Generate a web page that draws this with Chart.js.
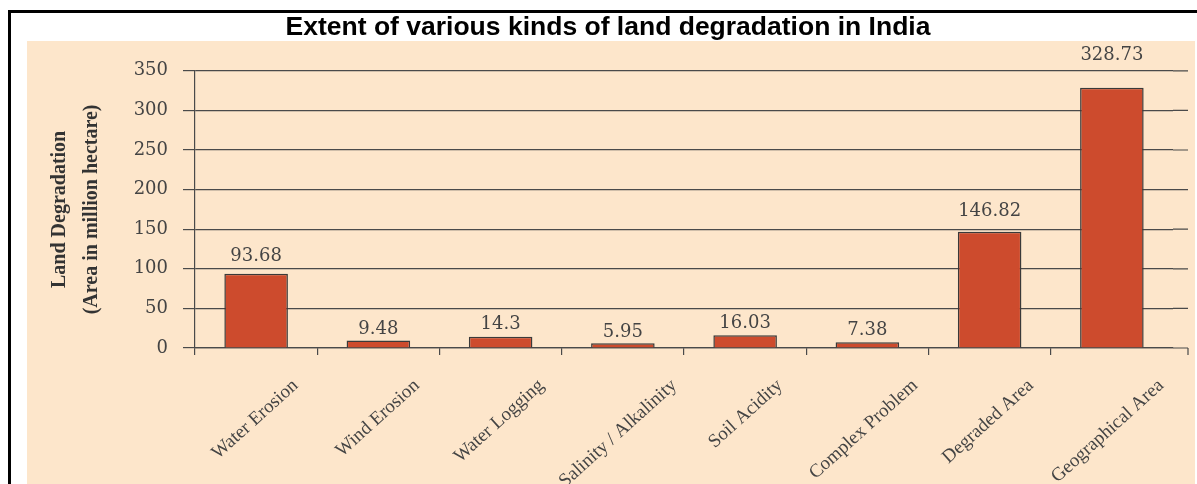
<!DOCTYPE html>
<html>
<head>
<meta charset="utf-8">
<script src="https://cdn.jsdelivr.net/npm/chart.js@4"></script>
<style>
  html, body { margin: 0; padding: 0; background: #fff; }
  #wrap { position: relative; width: 1197px; height: 484px; }
</style>
</head>
<body>
<div id="wrap"><canvas id="myChart" width="1197" height="484"></canvas></div>
<script>
// Dados do gráfico
const categorias = ['Water Erosion', 'Wind Erosion', 'Water Logging', 'Salinity / Alkalinity',
    'Soil Acidity', 'Complex Problem', 'Degraded Area', 'Geographical Area'];
const valores = [93.68, 9.48, 14.3, 5.95, 16.03, 7.38, 146.82, 328.73];
const yTicks = [0, 50, 100, 150, 200, 250, 300, 350];

const PEACH = '#fde6cb';
const GRID = '#4a4a4a';
const TEXT = '#444';

// Fundo pêssego e moldura preta
const fundoPlugin = {
    id: 'fundo',
    beforeDraw(chart) {
        const { ctx, width, height } = chart;
        ctx.save();
        ctx.fillStyle = '#fff';
        ctx.fillRect(0, 0, width, height);
        ctx.fillStyle = PEACH;
        ctx.fillRect(27, 41, width - 29, height - 41);
        ctx.fillStyle = '#000';
        ctx.fillRect(8, 10, width - 8, 3);
        ctx.fillRect(8, 10, 3, height - 10);
        ctx.restore();
    }
};

// Prolonga as linhas de grade além da última categoria
const extensaoPlugin = {
    id: 'extensao',
    beforeDatasetsDraw(chart) {
        const { ctx, chartArea, scales: { y } } = chart;
        const fim = chartArea.right + 15;
        ctx.save();
        ctx.strokeStyle = GRID;
        ctx.lineWidth = 1.2;
        ctx.beginPath();
        yTicks.forEach(v => {
            const py = y.getPixelForValue(v);
            ctx.moveTo(chartArea.right, py);
            ctx.lineTo(fim, py);
        });
        ctx.moveTo(fim, chartArea.bottom);
        ctx.lineTo(fim, chartArea.bottom + 7);
        ctx.stroke();
        ctx.restore();
    }
};

// Rótulos de valor acima das barras
const rotulosPlugin = {
    id: 'rotulos',
    afterDatasetsDraw(chart) {
        const { ctx, scales: { y } } = chart;
        const meta = chart.getDatasetMeta(0);
        ctx.save();
        ctx.font = '18px "DejaVu Serif"';
        ctx.fillStyle = TEXT;
        ctx.textAlign = 'center';
        ctx.textBaseline = 'middle';
        meta.data.forEach((bar, i) => {
            const v = valores[i];
            ctx.fillText(String(v), bar.x, y.getPixelForValue(v * 1.083) - 11);
        });
        ctx.restore();
    }
};

// Rótulos inclinados das categorias
const categoriasPlugin = {
    id: 'categoriasX',
    afterDraw(chart) {
        const { ctx, scales: { x } } = chart;
        ctx.save();
        ctx.font = '19px "Liberation Serif"';
        ctx.fillStyle = TEXT;
        ctx.textAlign = 'right';
        ctx.textBaseline = 'middle';
        categorias.forEach((nome, i) => {
            const w = ctx.measureText(nome).width;
            ctx.save();
            ctx.translate(x.getPixelForValue(i) + 9 + 0.28 * w, x.top + 35);
            ctx.rotate(-42 * Math.PI / 180);
            ctx.fillText(nome, 0, 0);
            ctx.restore();
        });
        ctx.restore();
    }
};

const ctx = document.getElementById('myChart').getContext('2d');
new Chart(ctx, {
    type: 'bar',
    data: {
        labels: categorias,
        datasets: [{
            data: valores,
            backgroundColor: '#cd4b2d',
            borderColor: '#3a3a3a',
            borderWidth: 1.5,
            barPercentage: 0.52,
            categoryPercentage: 1
        }]
    },
    options: {
        responsive: false,
        animation: false,
        devicePixelRatio: 1,
        layout: { padding: { left: 43, right: 24, top: 0, bottom: 0 } },
        plugins: {
            legend: { display: false },
            tooltip: { enabled: false },
            title: {
                display: true,
                text: 'Extent of various kinds of land degradation in India',
                color: '#000',
                font: { family: 'Arial, "Liberation Sans"', size: 26.5, weight: 'bold', lineHeight: 1.2 },
                padding: { top: 12, bottom: 27 }
            }
        },
        scales: {
            x: {
                offset: true,
                grid: {
                    offset: true,
                    drawOnChartArea: false,
                    tickLength: 7,
                    lineWidth: 1.2,
                    color: c => (c.index === undefined ? 'rgba(0,0,0,0)' : GRID)
                },
                border: { display: true, color: GRID, width: 1.2 },
                ticks: { display: false, autoSkip: false },
                afterFit(scale) { scale.height = 136; }
            },
            y: {
                min: 0,
                max: 350,
                afterBuildTicks(scale) { scale.ticks = yTicks.map(v => ({ value: v })); },
                grid: { color: GRID, lineWidth: 1.2, tickLength: 12 },
                border: { display: true, color: GRID, width: 1.2 },
                ticks: {
                    padding: 15,
                    color: TEXT,
                    font: { family: '"DejaVu Serif"', size: 18 }
                },
                title: {
                    display: true,
                    text: ['Land Degradation', '(Area in million hectare)'],
                    color: '#333',
                    font: { family: '"Liberation Serif"', size: 20, weight: 'bold', lineHeight: 1.6 },
                    padding: { top: 1, bottom: 0 }
                },
                afterFit(scale) { scale.width = 152; }
            }
        }
    },
    plugins: [fundoPlugin, extensaoPlugin, rotulosPlugin, categoriasPlugin]
});
</script>
</body>
</html>
